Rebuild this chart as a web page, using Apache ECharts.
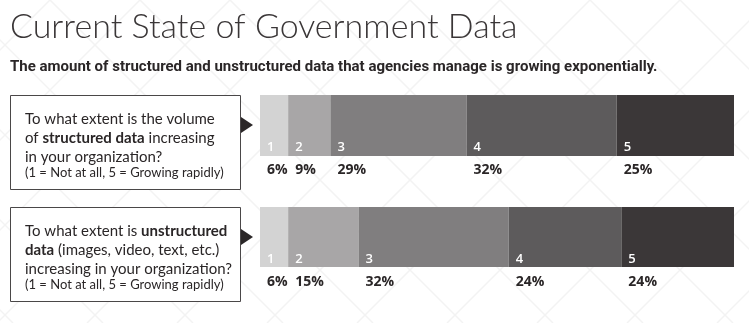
<!DOCTYPE html>
<html><head><meta charset="utf-8">
<script src="https://cdn.jsdelivr.net/npm/echarts@6/dist/echarts.min.js"></script>
<style>html,body{margin:0;padding:0;background:#fff}#c{width:749px;height:323px}</style>
</head><body><div id="c"></div>
<script>
const levels = ['1','2','3','4','5'];
const structuredPct = [6, 9, 29, 32, 25];
const unstructuredPct = [6, 15, 32, 24, 24];
const colors = ['#d3d3d3','#a8a6a7','#807e7f','#5d5b5c','#3b3738'];
const titleText = 'Current State of Government Data';
const subtitleText = 'The amount of structured and unstructured data that agencies manage is growing exponentially.';

const chart = echarts.init(document.getElementById('c'));
const sum = a => a.reduce((s,v)=>s+v,0);

function seriesFor(values, gi) {
  return values.map((v, i) => ({
    type: 'bar', stack: 'g' + gi, xAxisIndex: gi, yAxisIndex: gi,
    barWidth: '100%', data: [v], silent: true,
    itemStyle: { color: colors[i] },
    label: {
      show: true, position: [7, 41], align: 'left', verticalAlign: 'top',
      formatter: '{n|' + levels[i] + '}\n{p|' + v + '%}',
      rich: {
        n: { color: '#fff', fontFamily: 'Open Sans', fontSize: 13, fontWeight: 600, lineHeight: 22 },
        p: { color: '#2a2627', fontFamily: 'Open Sans', fontSize: 14, fontWeight: 700, lineHeight: 24 }
      }
    }
  }));
}

function box(top, lines) {
  const els = [{ type: 'rect', z: 5, shape: { x: 10.5, y: top + 0.5, width: 230, height: 94 },
    style: { fill: '#fff', stroke: '#4a4748', lineWidth: 1 } },
    { type: 'polygon', z: 5, shape: { points: [[241, top + 22], [253, top + 30], [241, top + 38]] }, style: { fill: '#2b2728' } }];
  const ys = [24, 43, 62, 78];
  lines.forEach((ln, k) => {
    els.push({ type: 'text', z: 6, x: 25, y: top + ys[k], style: {
      text: ln, verticalAlign: 'middle', align: 'left',
      rich: {
        n: { fontFamily: 'Lato', fontSize: 15, fill: '#2a2627' },
        b: { fontFamily: 'Lato', fontSize: 15, fontWeight: 'bold', fill: '#2a2627' },
        s: { fontFamily: 'Lato', fontSize: 13, fill: '#2a2627' }
      } } });
  });
  return els;
}

// faint decorative diagonal lattice in the background
const bg = [];
for (let k = -400; k < 1200; k += 90) {
  bg.push({ type: 'line', z: -10, silent: true, shape: { x1: k, y1: 0, x2: k + 323, y2: 323 }, style: { stroke: '#f3f3f3', lineWidth: 1.5 } });
  bg.push({ type: 'line', z: -10, silent: true, shape: { x1: k, y1: 0, x2: k - 323, y2: 323 }, style: { stroke: '#f3f3f3', lineWidth: 1.5 } });
}

const graphic = [
  ...bg,
  { type: 'text', z: 6, x: 10, y: 27, style: { text: titleText, fontFamily: 'Lato', fontWeight: 300, fontSize: 34, fill: '#3a3637', verticalAlign: 'middle' } },
  { type: 'text', z: 6, x: 10, y: 67, style: { text: subtitleText, fontFamily: 'Roboto', fontWeight: 'bold', fontSize: 15, fill: '#2a2627', verticalAlign: 'middle' } },
  ...box(95, ['{n|To what extent is the volume}', '{n|of }{b|structured data}{n| increasing}', '{n|in your organization?}', '{s|(1 = Not at all, 5 = Growing rapidly)}']),
  ...box(207, ['{n|To what extent is }{b|unstructured}', '{b|data}{n| (images, video, text, etc.)}', '{n|increasing in your organization?}', '{s|(1 = Not at all, 5 = Growing rapidly)}'])
];

chart.setOption({
  animation: false,
  grid: [
    { left: 260, width: 474, top: 95, height: 61 },
    { left: 260, width: 474, top: 207, height: 60 }
  ],
  xAxis: [
    { type: 'value', gridIndex: 0, min: 0, max: sum(structuredPct), show: false },
    { type: 'value', gridIndex: 1, min: 0, max: sum(unstructuredPct), show: false }
  ],
  yAxis: [
    { type: 'category', gridIndex: 0, data: ['structured'], show: false },
    { type: 'category', gridIndex: 1, data: ['unstructured'], show: false }
  ],
  series: [...seriesFor(structuredPct, 0), ...seriesFor(unstructuredPct, 1)],
  graphic: graphic
});
</script></body></html>
